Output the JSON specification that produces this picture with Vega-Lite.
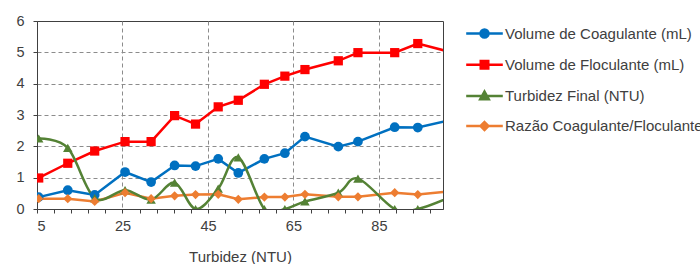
{
  "$schema": "https://vega.github.io/schema/vega-lite/v6.json",
  "width": 406,
  "height": 188,
  "autosize": "none",
  "padding": {"left": 37, "top": 21, "right": 257, "bottom": 55},
  "background": "white",
  "config": {
    "font": "Liberation Sans",
    "view": {"stroke": "#404040", "strokeWidth": 1},
    "axis": {"domainColor": "#404040", "tickColor": "#404040", "labelColor": "#404040", "titleColor": "#404040", "labelFont": "Liberation Sans", "titleFont": "Liberation Sans", "labelFontSize": 14.5, "titleFontSize": 15, "titleFontWeight": "normal", "gridColor": "#8c8c8c", "gridDash": [4, 3], "gridWidth": 1, "tickSize": 4, "labelOverlap": false}
  },
  "data": {"values": [
    {"t": 5.4, "s": "Volume de Coagulante (mL)", "v": 0.38},
    {"t": 12.2, "s": "Volume de Coagulante (mL)", "v": 0.6},
    {"t": 18.5, "s": "Volume de Coagulante (mL)", "v": 0.45},
    {"t": 25.6, "s": "Volume de Coagulante (mL)", "v": 1.18},
    {"t": 31.7, "s": "Volume de Coagulante (mL)", "v": 0.86},
    {"t": 37.2, "s": "Volume de Coagulante (mL)", "v": 1.39},
    {"t": 42.1, "s": "Volume de Coagulante (mL)", "v": 1.37},
    {"t": 47.4, "s": "Volume de Coagulante (mL)", "v": 1.6},
    {"t": 52.1, "s": "Volume de Coagulante (mL)", "v": 1.15},
    {"t": 58.2, "s": "Volume de Coagulante (mL)", "v": 1.6},
    {"t": 63.0, "s": "Volume de Coagulante (mL)", "v": 1.78},
    {"t": 67.7, "s": "Volume de Coagulante (mL)", "v": 2.31},
    {"t": 75.5, "s": "Volume de Coagulante (mL)", "v": 1.99},
    {"t": 80.1, "s": "Volume de Coagulante (mL)", "v": 2.15},
    {"t": 88.7, "s": "Volume de Coagulante (mL)", "v": 2.61},
    {"t": 94.1, "s": "Volume de Coagulante (mL)", "v": 2.6},
    {"t": 102, "s": "Volume de Coagulante (mL)", "v": 2.85},
    {"t": 5.4, "s": "Volume de Floculante (mL)", "v": 0.99},
    {"t": 12.2, "s": "Volume de Floculante (mL)", "v": 1.46},
    {"t": 18.5, "s": "Volume de Floculante (mL)", "v": 1.85},
    {"t": 25.6, "s": "Volume de Floculante (mL)", "v": 2.15},
    {"t": 31.7, "s": "Volume de Floculante (mL)", "v": 2.15},
    {"t": 37.2, "s": "Volume de Floculante (mL)", "v": 2.98},
    {"t": 42.1, "s": "Volume de Floculante (mL)", "v": 2.71},
    {"t": 47.4, "s": "Volume de Floculante (mL)", "v": 3.26},
    {"t": 52.1, "s": "Volume de Floculante (mL)", "v": 3.47},
    {"t": 58.2, "s": "Volume de Floculante (mL)", "v": 3.98},
    {"t": 63.0, "s": "Volume de Floculante (mL)", "v": 4.24},
    {"t": 67.7, "s": "Volume de Floculante (mL)", "v": 4.45},
    {"t": 75.5, "s": "Volume de Floculante (mL)", "v": 4.73},
    {"t": 80.1, "s": "Volume de Floculante (mL)", "v": 4.99},
    {"t": 88.7, "s": "Volume de Floculante (mL)", "v": 4.99},
    {"t": 94.1, "s": "Volume de Floculante (mL)", "v": 5.28},
    {"t": 102, "s": "Volume de Floculante (mL)", "v": 5.0},
    {"t": 5.4, "s": "Turbidez Final (NTU)", "v": 2.25},
    {"t": 12.2, "s": "Turbidez Final (NTU)", "v": 1.95},
    {"t": 18.5, "s": "Turbidez Final (NTU)", "v": 0.35},
    {"t": 25.6, "s": "Turbidez Final (NTU)", "v": 0.6},
    {"t": 31.7, "s": "Turbidez Final (NTU)", "v": 0.3},
    {"t": 37.2, "s": "Turbidez Final (NTU)", "v": 0.84},
    {"t": 42.1, "s": "Turbidez Final (NTU)", "v": 0.0},
    {"t": 47.4, "s": "Turbidez Final (NTU)", "v": 0.65},
    {"t": 52.1, "s": "Turbidez Final (NTU)", "v": 1.65},
    {"t": 58.2, "s": "Turbidez Final (NTU)", "v": 0.0},
    {"t": 63.0, "s": "Turbidez Final (NTU)", "v": 0.0},
    {"t": 67.7, "s": "Turbidez Final (NTU)", "v": 0.24},
    {"t": 75.5, "s": "Turbidez Final (NTU)", "v": 0.52},
    {"t": 80.1, "s": "Turbidez Final (NTU)", "v": 0.97},
    {"t": 88.7, "s": "Turbidez Final (NTU)", "v": 0.0},
    {"t": 94.1, "s": "Turbidez Final (NTU)", "v": 0.0},
    {"t": 102, "s": "Turbidez Final (NTU)", "v": 0.4},
    {"t": 5.4, "s": "Razão Coagulante/Floculante", "v": 0.33},
    {"t": 12.2, "s": "Razão Coagulante/Floculante", "v": 0.33},
    {"t": 18.5, "s": "Razão Coagulante/Floculante", "v": 0.24},
    {"t": 25.6, "s": "Razão Coagulante/Floculante", "v": 0.52},
    {"t": 31.7, "s": "Razão Coagulante/Floculante", "v": 0.33},
    {"t": 37.2, "s": "Razão Coagulante/Floculante", "v": 0.42},
    {"t": 42.1, "s": "Razão Coagulante/Floculante", "v": 0.46},
    {"t": 47.4, "s": "Razão Coagulante/Floculante", "v": 0.47},
    {"t": 52.1, "s": "Razão Coagulante/Floculante", "v": 0.31},
    {"t": 58.2, "s": "Razão Coagulante/Floculante", "v": 0.38},
    {"t": 63.0, "s": "Razão Coagulante/Floculante", "v": 0.38},
    {"t": 67.7, "s": "Razão Coagulante/Floculante", "v": 0.47},
    {"t": 75.5, "s": "Razão Coagulante/Floculante", "v": 0.39},
    {"t": 80.1, "s": "Razão Coagulante/Floculante", "v": 0.39},
    {"t": 88.7, "s": "Razão Coagulante/Floculante", "v": 0.52},
    {"t": 94.1, "s": "Razão Coagulante/Floculante", "v": 0.46},
    {"t": 102, "s": "Razão Coagulante/Floculante", "v": 0.57}
  ]},
  "encoding": {
    "x": {
      "field": "t", "type": "quantitative",
      "scale": {"domain": [5, 100], "nice": false, "zero": false},
      "axis": {
        "title": "Turbidez (NTU)",
        "values": [5, 9, 13, 17, 21, 25, 29, 33, 37, 41, 45, 49, 53, 57, 61, 65, 69, 73, 77, 81, 85, 89, 93, 97],
        "labelExpr": "(datum.value - 5) % 20 === 0 ? datum.label : ''",
        "labelPadding": 6,
        "grid": true,
        "gridOpacity": {"condition": {"test": "(datum.value - 5) % 20 === 0 && datum.value > 5", "value": 1}, "value": 0},
        "titleY": 52.5,
        "titleBaseline": "alphabetic"
      }
    },
    "y": {
      "field": "v", "type": "quantitative",
      "scale": {"domain": [0, 6], "nice": false},
      "axis": {
        "title": null,
        "format": "d",
        "values": [0, 0.5, 1, 1.5, 2, 2.5, 3, 3.5, 4, 4.5, 5, 5.5, 6],
        "labelExpr": "datum.value % 1 === 0 ? datum.label : ''",
        "labelPadding": 9,
        "grid": true,
        "gridOpacity": {"condition": {"test": "datum.value % 1 === 0 && datum.value > 0 && datum.value < 6", "value": 1}, "value": 0}
      }
    },
    "color": {
      "field": "s", "type": "nominal",
      "scale": {
        "domain": ["Volume de Coagulante (mL)", "Volume de Floculante (mL)", "Turbidez Final (NTU)", "Razão Coagulante/Floculante"],
        "range": ["#0070C0", "#FF0000", "#548235", "#ED7D31"]
      },
      "legend": {
        "title": null,
        "orient": "none",
        "legendX": 440,
        "legendY": 5,
        "padding": 0,
        "symbolSize": 100,
        "symbolStrokeWidth": 2.5,
        "symbolOpacity": 1,
        "labelOffset": 13,
        "rowPadding": 12.2,
        "labelFont": "Liberation Sans",
        "labelFontSize": 15,
        "labelColor": "#404040",
        "labelLimit": 400,
        "encode": {
          "symbols": {
            "update": {
              "stroke": {"signal": "scale('color', datum.value)"},
              "strokeWidth": {"value": 2.5}
            }
          }
        }
      }
    }
  },
  "layer": [
    {
      "transform": [{"filter": "datum.s !== 'Turbidez Final (NTU)'"}],
      "mark": {"type": "line", "strokeWidth": 2.5, "clip": true}
    },
    {
      "transform": [{"filter": "datum.s === 'Turbidez Final (NTU)'"}],
      "mark": {"type": "line", "strokeWidth": 2.5, "clip": true, "interpolate": "cardinal", "tension": 0}
    },
    {
      "transform": [{"filter": "datum.t > 100"}],
      "mark": {"type": "point", "filled": true, "clip": true},
      "encoding": {
        "shape": {
          "field": "s", "type": "nominal",
          "scale": {
            "domain": ["Volume de Coagulante (mL)", "Volume de Floculante (mL)", "Turbidez Final (NTU)", "Razão Coagulante/Floculante"],
            "range": [
              "M-3.66,0H3.66M-0.8,0A0.8,0.8,0,1,0,0.8,0A0.8,0.8,0,1,0,-0.8,0Z",
              "M-3.66,0H3.66M-0.75,-0.75H0.75V0.75H-0.75Z",
              "M-3.66,0H3.66M0,-0.85L0.85,0.65H-0.85Z",
              "M-3.66,0H3.66M0,-0.8L0.8,0L0,0.8L-0.8,0Z"
            ]
          },
          "legend": {"title": null}
        }
      }
    },
    {
      "transform": [{"filter": "datum.t < 100 && datum.s === 'Volume de Coagulante (mL)'"}],
      "mark": {"type": "point", "shape": "circle", "filled": true, "size": 95, "opacity": 1, "clip": true}
    },
    {
      "transform": [{"filter": "datum.t < 100 && datum.s === 'Volume de Floculante (mL)'"}],
      "mark": {"type": "point", "shape": "square", "filled": true, "size": 85, "opacity": 1, "clip": true}
    },
    {
      "transform": [{"filter": "datum.t < 100 && datum.s === 'Turbidez Final (NTU)'"}],
      "mark": {"type": "point", "shape": "triangle-up", "filled": true, "size": 90, "opacity": 1, "clip": true}
    },
    {
      "transform": [{"filter": "datum.t < 100 && datum.s === 'Razão Coagulante/Floculante'"}],
      "mark": {"type": "point", "shape": "diamond", "filled": true, "size": 85, "opacity": 1, "clip": true}
    }
  ]
}
